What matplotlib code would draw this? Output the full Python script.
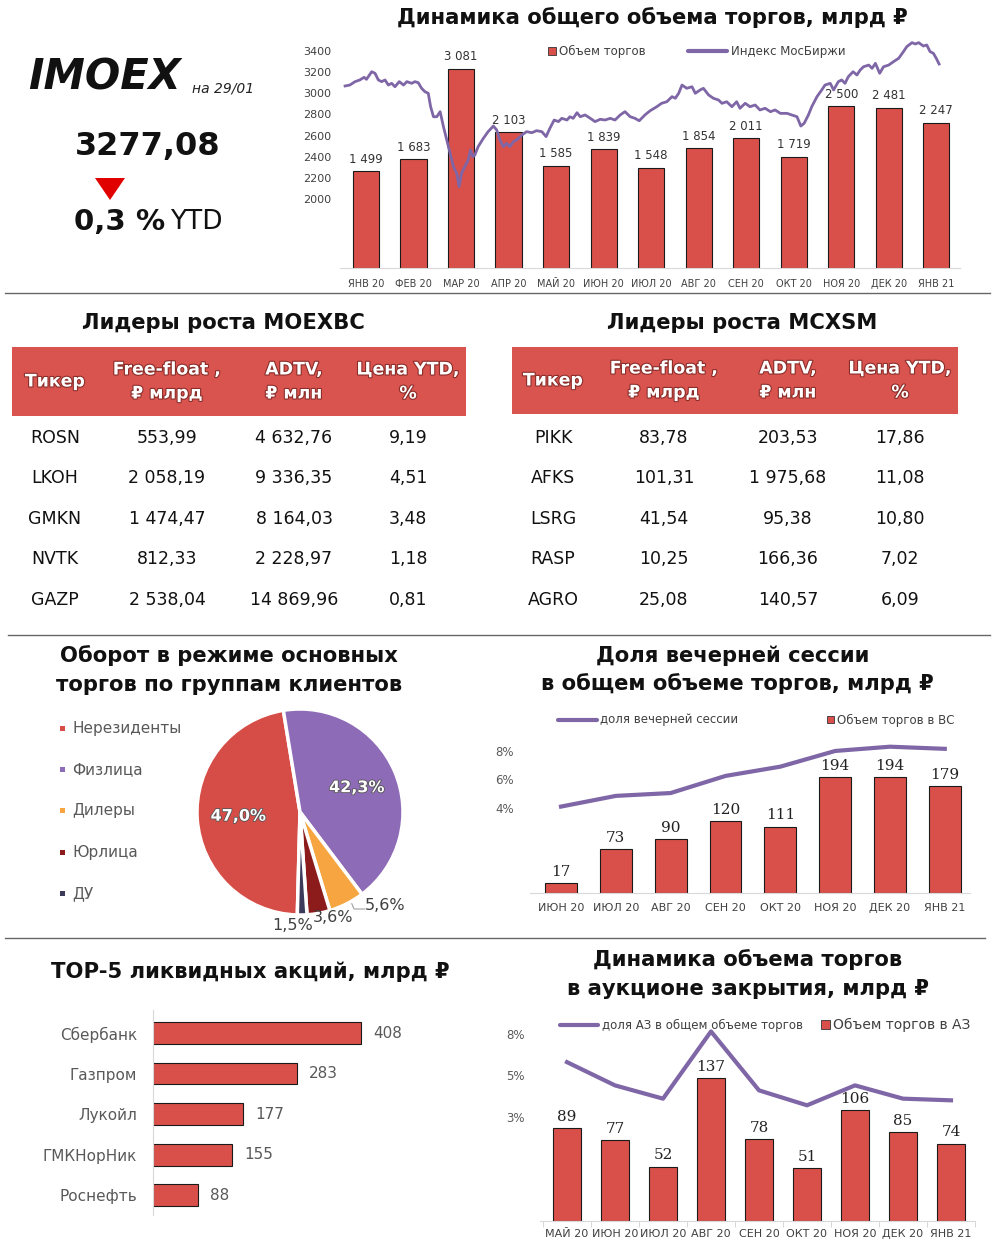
import matplotlib
matplotlib.use('Agg')
import matplotlib.pyplot as plt
import matplotlib.patheffects as pe
from matplotlib.patches import Rectangle, Polygon
import numpy as np

plt.rcParams['font.family'] = ['DejaVu Sans']

W, H = 999, 1245

# ---------------- data ----------------
months_top = ['ЯНВ 20', 'ФЕВ 20', 'МАР 20', 'АПР 20', 'МАЙ 20', 'ИЮН 20', 'ИЮЛ 20',
              'АВГ 20', 'СЕН 20', 'ОКТ 20', 'НОЯ 20', 'ДЕК 20', 'ЯНВ 21']
vol_top = [1499, 1683, 3081, 2103, 1585, 1839, 1548, 1854, 2011, 1719, 2500, 2481, 2247]

# IMOEX index: position in months (0 = ЯНВ 20 bar) and value
idx_pos = [-0.44, -0.34, -0.23, -0.13, -0.04, 0.01, 0.12, 0.19, 0.26, 0.33, 0.40, 0.47,
           0.54, 0.61, 0.70, 0.79, 0.86, 0.96, 1.03, 1.10, 1.17, 1.24, 1.31, 1.36, 1.42,
           1.49, 1.56, 1.63, 1.70, 1.77, 1.84, 1.91, 1.96, 2.01, 2.08, 2.15, 2.20, 2.25,
           2.29, 2.36, 2.47, 2.57, 2.68, 2.75, 2.82, 2.89, 2.96, 3.03, 3.10, 3.17, 3.28,
           3.38, 3.49, 3.59, 3.70, 3.79, 3.87, 3.96, 4.05, 4.12, 4.23, 4.29, 4.36, 4.44,
           4.51, 4.61, 4.72, 4.82, 4.93, 5.03, 5.14, 5.24, 5.35, 5.45, 5.56, 5.66, 5.75,
           5.87, 5.98, 6.12, 6.22, 6.33, 6.44, 6.51, 6.58, 6.65, 6.75, 6.86, 6.93, 7.03,
           7.10, 7.21, 7.31, 7.42, 7.49, 7.59, 7.70, 7.80, 7.87, 7.98, 8.08, 8.19, 8.29,
           8.40, 8.51, 8.61, 8.72, 8.86, 8.96, 9.07, 9.15, 9.22, 9.31, 9.38, 9.49, 9.59,
           9.66, 9.77, 9.84, 9.94, 10.01, 10.08, 10.15, 10.25, 10.33, 10.40, 10.47, 10.58,
           10.65, 10.72, 10.81, 10.89, 11.00, 11.10, 11.21, 11.31, 11.38, 11.49, 11.56,
           11.63, 11.73, 11.80, 11.87, 11.94, 12.00, 12.06]
idx_val = [3069, 3078, 3110, 3126, 3151, 3132, 3204, 3189, 3126, 3110, 3126, 3078,
           3094, 3062, 3110, 3078, 3110, 3094, 3110, 3100, 3047, 3015, 3000, 2873, 2778,
           2778, 2826, 2684, 2558, 2432, 2305, 2243, 2116, 2243, 2305, 2369, 2463, 2400,
           2416, 2495, 2574, 2637, 2690, 2653, 2558, 2495, 2527, 2495, 2542, 2558, 2605,
           2637, 2627, 2646, 2637, 2590, 2669, 2747, 2732, 2763, 2747, 2778, 2763, 2816,
           2778, 2795, 2763, 2732, 2754, 2747, 2763, 2747, 2795, 2826, 2778, 2763, 2740,
           2795, 2835, 2873, 2905, 2920, 2968, 2953, 3000, 3078, 3047, 3062, 3000, 3031,
           3047, 2984, 2953, 2936, 2905, 2920, 2873, 2920, 2858, 2905, 2873, 2889, 2842,
           2858, 2826, 2842, 2810, 2810, 2795, 2778, 2690, 2716, 2795, 2873, 2968, 3031,
           3078, 3094, 3031, 3110, 3126, 3094, 3157, 3204, 3173, 3220, 3251, 3267,
           3236, 3283, 3189, 3251, 3267, 3299, 3331, 3394, 3441, 3479, 3466,
           3479, 3447, 3457, 3394, 3378, 3331, 3277]
idx_ticks = [2000, 2200, 2400, 2600, 2800, 3000, 3200, 3400]

t_head = ['Тикер', ('Free-float ,', '₽ млрд'), ('ADTV,', '₽ млн'), ('Цена YTD,', '%')]
t1_tick = ['ROSN', 'LKOH', 'GMKN', 'NVTK', 'GAZP']
t1_ff = [553.99, 2058.19, 1474.47, 812.33, 2538.04]
t1_adtv = [4632.76, 9336.35, 8164.03, 2228.97, 14869.96]
t1_ytd = [9.19, 4.51, 3.48, 1.18, 0.81]
t2_tick = ['PIKK', 'AFKS', 'LSRG', 'RASP', 'AGRO']
t2_ff = [83.78, 101.31, 41.54, 10.25, 25.08]
t2_adtv = [203.53, 1975.68, 95.38, 166.36, 140.57]
t2_ytd = [17.86, 11.08, 10.80, 7.02, 6.09]

pie_groups = ['Нерезиденты', 'Физлица', 'Дилеры', 'Юрлица', 'ДУ']
pie_shares = [47.0, 42.3, 5.6, 3.6, 1.5]

months_vs = ['ИЮН 20', 'ИЮЛ 20', 'АВГ 20', 'СЕН 20', 'ОКТ 20', 'НОЯ 20', 'ДЕК 20', 'ЯНВ 21']
vol_vs = [17, 73, 90, 120, 111, 194, 194, 179]
share_vs = [4.1, 4.85, 5.05, 6.25, 6.9, 8.0, 8.3, 8.15]
vs_ticks = [4, 6, 8]

top5_names = ['Сбербанк', 'Газпром', 'Лукойл', 'ГМКНорНик', 'Роснефть']
top5_vals = [408, 283, 177, 155, 88]

months_az = ['МАЙ 20', 'ИЮН 20', 'ИЮЛ 20', 'АВГ 20', 'СЕН 20', 'ОКТ 20', 'НОЯ 20',
             'ДЕК 20', 'ЯНВ 21']
vol_az = [89, 77, 52, 137, 78, 51, 106, 85, 74]
share_az = [5.8, 4.4, 3.6, 7.65, 4.1, 3.2, 4.4, 3.6, 3.5]
az_ticks = [2.5, 5.0, 7.5]
az_tick_labels = ['3%', '5%', '8%']

# ---------------- styles ----------------
RED = '#d9504a'
PURPLE = '#7f66a6'
EDGE = '#1a1a1a'
PIE_COLORS = ['#d64d47', '#8e6bb6', '#f7a541', '#8c1c1c', '#3b3a5a']
GRAY = '#595959'
TITLE_FS = 15.2


def fmt_int(v):
    return f'{v:,}'.replace(',', ' ')


def fmt_num(v):
    return f'{v:,.2f}'.replace(',', ' ').replace('.', ',')


fig = plt.figure(figsize=(W / 100, H / 100), dpi=100)
bg = fig.add_axes([0, 0, 1, 1])
bg.set_xlim(0, W)
bg.set_ylim(H, 0)
bg.axis('off')


def pxax(x0, y0, x1, y1):
    ax = fig.add_axes([x0 / W, 1 - y1 / H, (x1 - x0) / W, (y1 - y0) / H])
    ax.set_facecolor('none')
    return ax


def T(x, y, s, **kw):
    kw.setdefault('ha', 'center')
    kw.setdefault('va', 'center')
    return bg.text(x, y, s, **kw)


def hide_spines(ax, keep=()):
    for k, sp in ax.spines.items():
        if k in keep:
            sp.set_color('#d9d9d9')
        else:
            sp.set_visible(False)


# ---------------- left header block ----------------
T(28, 77, 'IMOEX', ha='left', fontsize=30, fontweight='bold', fontstyle='italic', color='#111')
T(192, 88, 'на 29/01', ha='left', fontsize=10, fontstyle='italic', color='#222')
T(148, 147, '3277,08', fontsize=23, fontweight='bold', color='#111')
bg.add_patch(Polygon([[95, 178], [125, 178], [110, 200]], closed=True, fc='#e00000', ec='none'))
T(165, 222, '0,3 %', ha='right', fontsize=21, fontweight='bold', color='#111')
T(170, 222, 'YTD', ha='left', fontsize=19, color='#111')

# ---------------- top chart ----------------
T(652, 18, 'Динамика общего объема торгов, млрд ₽', fontsize=TITLE_FS, fontweight='bold', color='#111')
axb = pxax(340, 40, 960, 268)
xs = np.arange(len(vol_top))
axb.bar(xs, vol_top, width=0.55, color=RED, edgecolor=EDGE, linewidth=0.8, zorder=2)
axb.set_xlim(-0.547, 12.5)
axb.set_ylim(0, 3529)
for x, v in zip(xs, vol_top):
    axb.annotate(fmt_int(v), (x, v), xytext=(0, 4), textcoords='offset points',
                 ha='center', va='bottom', fontsize=8.5, color='#333')
axb.set_yticks([])
axb.set_xticks(xs, months_top)
axb.tick_params(axis='x', length=0, pad=8, labelsize=7, labelcolor='#404040')
hide_spines(axb, keep=('bottom',))
axl = axb.twinx()
axl.plot(idx_pos, idx_val, color=PURPLE, lw=2.0, zorder=3, solid_joinstyle='round')
axl.set_ylim(1347, 3504)
axl.yaxis.tick_left()
axl.set_yticks(idx_ticks, [str(t) for t in idx_ticks])
axl.tick_params(axis='y', length=0, pad=6, labelsize=8, labelcolor='#404040')
hide_spines(axl)
# legend
bg.add_patch(Rectangle((548, 47), 8, 8, fc=RED, ec='#333', lw=0.6))
T(559, 51, 'Объем торгов', ha='left', fontsize=8.5, color='#404040')
bg.plot([688, 727], [51, 51], color=PURPLE, lw=3, solid_capstyle='round')
T(731, 51, 'Индекс МосБиржи', ha='left', fontsize=8.5, color='#404040')

# separators
for y, x0, x1 in [(293, 5, 990), (635, 8, 990), (938, 5, 985)]:
    bg.plot([x0, x1], [y, y], color='#666', lw=1)

# ---------------- tables ----------------
shadow = [pe.withStroke(linewidth=1.6, foreground='#8b2e2a')]


def draw_table(title, tx, box, cols, ticks, ff, adtv, ytd):
    T(tx, 323, title, fontsize=TITLE_FS, fontweight='bold', color='#111')
    x0, y0, x1, y1 = box
    bg.add_patch(Rectangle((x0, y0), x1 - x0, y1 - y0, fc='#d9534f', ec='none'))
    yc = (y0 + y1) / 2
    for cx, h in zip(cols, t_head):
        if isinstance(h, tuple):
            T(cx, yc - 12, h[0], fontsize=12.5, fontweight='bold', color='white', path_effects=shadow)
            T(cx, yc + 12, h[1], fontsize=12.5, fontweight='bold', color='white', path_effects=shadow)
        else:
            T(cx, yc, h, fontsize=12.5, fontweight='bold', color='white', path_effects=shadow)
    rows_y = [438, 478, 519, 559, 600]
    for i, y in enumerate(rows_y):
        vals = [ticks[i], fmt_num(ff[i]), fmt_num(adtv[i]), fmt_num(ytd[i])]
        for cx, s in zip(cols, vals):
            T(cx, y, s, fontsize=12.5, color='#111')


draw_table('Лидеры роста MOEXBC', 223, (12, 347, 466, 416), [55, 167, 294, 408],
           t1_tick, t1_ff, t1_adtv, t1_ytd)
draw_table('Лидеры роста MCXSM', 742, (512, 347, 958, 414), [553, 664, 788, 900],
           t2_tick, t2_ff, t2_adtv, t2_ytd)

# ---------------- pie ----------------
T(229, 656, 'Оборот в режиме основных', fontsize=TITLE_FS, fontweight='bold', color='#111')
T(229, 685, 'торгов по группам клиентов', fontsize=TITLE_FS, fontweight='bold', color='#111')
axp = pxax(197, 709, 403, 915)
wedges, texts, autotexts = axp.pie(
    pie_shares, colors=PIE_COLORS, startangle=268.5, counterclock=False,
    wedgeprops=dict(edgecolor='white', linewidth=2.5),
    autopct=lambda p: f'{p:.1f}%'.replace('.', ','), pctdistance=0.6)
axp.set_xlim(-1, 1)
axp.set_ylim(-1, 1)
axp.set_aspect('equal')
outer_pos = [None, None, (0.83, -0.91), (0.32, -1.02), (-0.07, -1.10)]
for i, t in enumerate(autotexts):
    if outer_pos[i] is None:
        t.set_color('white')
        t.set_fontweight('bold')
        t.set_fontsize(11.5)
        t.set_path_effects([pe.withStroke(linewidth=1.2, foreground='#555')])
    else:
        t.set_position(outer_pos[i])
        t.set_color('#404040')
        t.set_fontsize(11.5)
bg.plot([349, 354, 365], [897, 909, 909], color='#a0a0a0', lw=0.8)
for y, g, c in zip([729, 770, 811, 853, 894], pie_groups, PIE_COLORS):
    bg.add_patch(Rectangle((60, y - 3), 5, 5, fc=c, ec='none'))
    T(72, y, g, ha='left', fontsize=11, color=GRAY)

# ---------------- evening session ----------------
T(733, 656, 'Доля вечерней сессии', fontsize=TITLE_FS, fontweight='bold', color='#111')
T(737, 684, 'в общем объеме торгов, млрд ₽', fontsize=TITLE_FS, fontweight='bold', color='#111')
axv = pxax(530, 735, 970, 893)
xv = np.arange(len(vol_vs))
axv.bar(xv, vol_vs, width=0.58, color=RED, edgecolor=EDGE, linewidth=0.8, zorder=2)
axv.set_xlim(-0.566, 7.46)
axv.set_ylim(0, 264)
for x, v in zip(xv, vol_vs):
    axv.annotate(str(v), (x, v), xytext=(0, 3), textcoords='offset points',
                 ha='center', va='bottom', fontsize=11, family='DejaVu Serif', color='#222')
axv.set_yticks([])
axv.set_xticks(xv, months_vs)
axv.tick_params(axis='x', length=0, pad=7.5, labelsize=8, labelcolor='#404040')
hide_spines(axv, keep=('bottom',))
axv2 = axv.twinx()
axv2.plot(xv, share_vs, color=PURPLE, lw=3, zorder=3)
axv2.set_ylim(-1.96, 9.12)
axv2.yaxis.tick_left()
axv2.set_yticks(vs_ticks, [f'{t}%' for t in vs_ticks])
axv2.tick_params(axis='y', length=0, pad=11.5, labelsize=8.5, labelcolor=GRAY)
hide_spines(axv2)
bg.plot([558, 597], [720, 720], color=PURPLE, lw=3, solid_capstyle='round')
T(600, 720, 'доля вечерней сессии', ha='left', fontsize=8.5, color='#404040')
bg.add_patch(Rectangle((827, 716), 7, 7, fc=RED, ec='#333', lw=0.6))
T(837, 720, 'Объем торгов в ВС', ha='left', fontsize=8.5, color='#404040')

# ---------------- top-5 ----------------
T(250, 972, 'TOP-5 ликвидных акций, млрд ₽', fontsize=TITLE_FS, fontweight='bold', color='#111')
axh = pxax(153, 1010, 480, 1215)
yh = np.arange(len(top5_vals))
axh.barh(yh, top5_vals, height=0.54, color=RED, edgecolor=EDGE, linewidth=0.8)
axh.set_ylim(4.49, -0.568)
axh.set_xlim(0, 641)
for y, v in zip(yh, top5_vals):
    axh.annotate(str(v), (v, y), xytext=(8.5, 0), textcoords='offset points',
                 ha='left', va='center', fontsize=11, color=GRAY)
axh.set_xticks([])
axh.set_yticks(yh, top5_names)
axh.tick_params(axis='y', length=0, pad=11.5, labelsize=11, labelcolor=GRAY)
hide_spines(axh, keep=('left',))

# ---------------- closing auction ----------------
T(748, 960, 'Динамика объема торгов', fontsize=TITLE_FS, fontweight='bold', color='#111')
T(748, 989, 'в аукционе закрытия, млрд ₽', fontsize=TITLE_FS, fontweight='bold', color='#111')
axa = pxax(540, 1015, 975, 1221)
xa = np.arange(len(vol_az))
axa.bar(xa, vol_az, width=0.58, color=RED, edgecolor=EDGE, linewidth=0.8, zorder=2)
axa.set_xlim(-0.5625, 8.5)
axa.set_ylim(0, 197)
for x, v in zip(xa, vol_az):
    axa.annotate(str(v), (x, v), xytext=(0, 3), textcoords='offset points',
                 ha='center', va='bottom', fontsize=11, family='DejaVu Serif', color='#222')
axa.set_yticks([])
axa.set_xticks(xa, months_az)
axa.set_xticks(np.arange(-0.5, len(vol_az), 1), minor=True)
axa.tick_params(axis='x', which='major', length=0, pad=6, labelsize=8, labelcolor='#404040')
axa.tick_params(axis='x', which='minor', length=4, color='#d0d0d0')
hide_spines(axa, keep=('bottom',))
axa2 = axa.twinx()
axa2.plot(xa, share_az, color=PURPLE, lw=3, zorder=3)
axa2.set_ylim(-3.77, 8.64)
axa2.yaxis.tick_left()
axa2.set_yticks(az_ticks, az_tick_labels)
axa2.tick_params(axis='y', length=0, pad=11, labelsize=8.5, labelcolor=GRAY)
hide_spines(axa2)
bg.plot([560, 598], [1025, 1025], color=PURPLE, lw=3, solid_capstyle='round')
T(602, 1025, 'доля АЗ в общем объеме торгов', ha='left', fontsize=8.5, color='#404040')
bg.add_patch(Rectangle((821, 1020), 9, 9, fc=RED, ec='#333', lw=0.6))
T(833, 1025, 'Объем торгов в АЗ', ha='left', fontsize=10, color='#404040')

fig.savefig('out.png', dpi=100, facecolor='white')
